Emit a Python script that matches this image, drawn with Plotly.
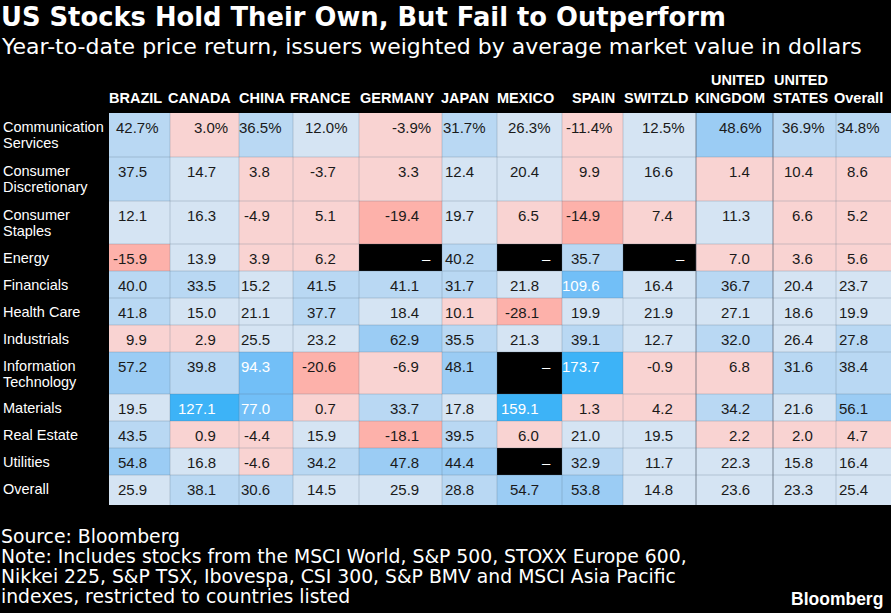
import plotly.graph_objects as go

# ---------------- data ----------------
title_text = "US Stocks Hold Their Own, But Fail to Outperform"
subtitle_text = "Year-to-date price return, issuers weighted by average market value in dollars"
source_lines = [
    "Source: Bloomberg",
    "Note: Includes stocks from the MSCI World, S&P 500, STOXX Europe 600,",
    "Nikkei 225, S&P TSX, Ibovespa, CSI 300, S&P BMV and MSCI Asia Pacific",
    "indexes, restricted to countries listed",
]

countries = ["BRAZIL", "CANADA", "CHINA", "FRANCE", "GERMANY", "JAPAN", "MEXICO",
             "SPAIN", "SWITZLD", "UNITED<br>KINGDOM", "UNITED<br>STATES", "Overall"]
sectors = ["Communication<br>Services", "Consumer<br>Discretionary", "Consumer<br>Staples",
           "Energy", "Financials", "Health Care", "Industrials", "Information<br>Technology",
           "Materials", "Real Estate", "Utilities", "Overall"]

communication_services = [42.7, 3.0, 36.5, 12.0, -3.9, 31.7, 26.3, -11.4, 12.5, 48.6, 36.9, 34.8]
consumer_discretionary = [37.5, 14.7, 3.8, -3.7, 3.3, 12.4, 20.4, 9.9, 16.6, 1.4, 10.4, 8.6]
consumer_staples = [12.1, 16.3, -4.9, 5.1, -19.4, 19.7, 6.5, -14.9, 7.4, 11.3, 6.6, 5.2]
energy = [-15.9, 13.9, 3.9, 6.2, None, 40.2, None, 35.7, None, 7.0, 3.6, 5.6]
financials = [40.0, 33.5, 15.2, 41.5, 41.1, 31.7, 21.8, 109.6, 16.4, 36.7, 20.4, 23.7]
health_care = [41.8, 15.0, 21.1, 37.7, 18.4, 10.1, -28.1, 19.9, 21.9, 27.1, 18.6, 19.9]
industrials = [9.9, 2.9, 25.5, 23.2, 62.9, 35.5, 21.3, 39.1, 12.7, 32.0, 26.4, 27.8]
information_technology = [57.2, 39.8, 94.3, -20.6, -6.9, 48.1, None, 173.7, -0.9, 6.8, 31.6, 38.4]
materials = [19.5, 127.1, 77.0, 0.7, 33.7, 17.8, 159.1, 1.3, 4.2, 34.2, 21.6, 56.1]
real_estate = [43.5, 0.9, -4.4, 15.9, -18.1, 39.5, 6.0, 21.0, 19.5, 2.2, 2.0, 4.7]
utilities = [54.8, 16.8, -4.6, 34.2, 47.8, 44.4, None, 32.9, 11.7, 22.3, 15.8, 16.4]
overall = [25.9, 38.1, 30.6, 14.5, 25.9, 28.8, 54.7, 53.8, 14.8, 23.6, 23.3, 25.4]

returns = [communication_services, consumer_discretionary, consumer_staples, energy,
           financials, health_care, industrials, information_technology, materials,
           real_estate, utilities, overall]

# ---------------- style / layout ----------------
W, H = 891, 613
label_w = 109
col_widths = [61, 69, 54, 66, 83, 55, 65, 61, 73, 77, 63, 55]
row_heights = [44, 44, 43, 27, 27, 27, 27, 42, 27, 27, 27, 30]
table_top = 113
table_h = sum(row_heights)
table_bottom = table_top + table_h

# colour buckets: missing, <=-12, <10.8, <27.5, <44, <70, <115, >=115
bucket_colors = ["#000000", "#FDB1AA", "#F9D3D2", "#D5E4F3", "#B9D8F3",
                 "#9BCCF4", "#72BFF7", "#3DB3F7"]
bucket_limits = [-12, 10.8, 27.5, 44, 70, 115]


def bucket(v):
    if v is None:
        return 0
    b = 1
    for lim in bucket_limits:
        if v < lim:
            return b
        b += 1
    return b


n_b = len(bucket_colors)
colorscale = []
for i, c in enumerate(bucket_colors):
    colorscale.append([i / n_b, c])
    colorscale.append([(i + 1) / n_b, c])

x_edges = [label_w]
for w in col_widths:
    x_edges.append(x_edges[-1] + w)
y_edges = [0]
for h in row_heights:
    y_edges.append(y_edges[-1] + h)

z = [[bucket(v) for v in row] for row in returns]

fig = go.Figure(go.Heatmap(
    x=x_edges, y=y_edges, z=z, colorscale=colorscale,
    zmin=-0.5, zmax=n_b - 0.5, showscale=False, hoverinfo="skip"))

num_font = "Liberation Sans, Arial, sans-serif"
head_font = "Liberation Sans, Arial, sans-serif"
cond_font = "DejaVu Sans, sans-serif"


def py(ypx):
    return (table_bottom - ypx) / table_h


annotations = []
# cell values
for r, row in enumerate(returns):
    for c, v in enumerate(row):
        b = bucket(v)
        if v is None:
            txt, shift = "\u2013", -9
        elif r == 0:
            txt, shift = f"{v:.1f}%", -9
        else:
            txt, shift = f"{v:.1f}", -21
        annotations.append(dict(
            x=x_edges[c + 1], y=y_edges[r] + 14, xref="x", yref="y",
            text=txt, showarrow=False, xanchor="right", yanchor="middle", xshift=shift,
            font=dict(family=num_font, size=15,
                      color="#FFFFFF" if b in (0, 6, 7) else "#1A1A1A")))

# row labels
for r, lab in enumerate(sectors):
    for k, line in enumerate(lab.split("<br>")):
        annotations.append(dict(
            x=1, y=y_edges[r] + 14 + 16 * k, xref="x", yref="y", text=line,
            showarrow=False, xanchor="left", yanchor="middle",
            font=dict(family=num_font, size=14.5, color="#FFFFFF")))

# column headers
for c, lab in enumerate(countries):
    lines = lab.split("<br>")
    for k, line in enumerate(reversed(lines)):
        annotations.append(dict(
            x=x_edges[c + 1], y=py(98 - 18 * k), xref="x", yref="paper", text=line,
            showarrow=False, xanchor="right", yanchor="middle", xshift=-6,
            font=dict(family=head_font, size=14.5, color="#FFFFFF", weight="bold")))

# title, subtitle
annotations.append(dict(x=0, y=py(17), xref="paper", yref="paper", text=title_text,
                        showarrow=False, xanchor="left", yanchor="middle", xshift=-1,
                        font=dict(family=cond_font, size=25.8, color="#FFFFFF", weight="bold")))
annotations.append(dict(x=0, y=py(46), xref="paper", yref="paper", text=subtitle_text,
                        showarrow=False, xanchor="left", yanchor="middle", xshift=-1,
                        font=dict(family=cond_font, size=22, color="#FFFFFF")))
for k, line in enumerate(source_lines):
    annotations.append(dict(x=0, y=py(536 + 20 * k), xref="paper", yref="paper", text=line,
                            showarrow=False, xanchor="left", yanchor="middle", xshift=-1,
                            font=dict(family=cond_font, size=18.8, color="#FFFFFF")))
annotations.append(dict(x=1, y=py(599), xref="paper", yref="paper", text="Bloomberg",
                        showarrow=False, xanchor="right", yanchor="middle", xshift=-6,
                        font=dict(family=num_font, size=17.5, color="#FFFFFF", weight="bold")))

# grid lines
shapes = []
grid_col = "rgba(90,110,130,0.28)"
strong_col = "rgba(70,80,95,0.65)"
for i, xe in enumerate(x_edges[1:-1], start=1):
    strong = countries[i].startswith("UNITED")
    shapes.append(dict(type="line", xref="x", yref="y", x0=xe, x1=xe, y0=0, y1=table_h,
                       line=dict(color=strong_col if strong else grid_col, width=1)))
for ye in y_edges[1:-1]:
    shapes.append(dict(type="line", xref="x", yref="y", x0=label_w, x1=x_edges[-1],
                       y0=ye, y1=ye, line=dict(color=grid_col, width=1)))
shapes.append(dict(type="line", xref="paper", yref="y", x0=0, x1=1, y0=-1, y1=-1,
                   line=dict(color="#CFCFCF", width=2)))

fig.update_layout(
    width=W, height=H,
    margin=dict(l=0, r=0, t=table_top, b=H - table_bottom, pad=0),
    paper_bgcolor="#000000", plot_bgcolor="#000000",
    xaxis=dict(range=[0, W], visible=False, fixedrange=True),
    yaxis=dict(range=[table_h, 0], visible=False, fixedrange=True),
    annotations=annotations, shapes=shapes, showlegend=False,
)

fig.write_html("out.html",
               config={"displayModeBar": False, "staticPlot": True},
               post_script="document.body.style.margin='0px';"
                           "document.body.style.background='#000';")
